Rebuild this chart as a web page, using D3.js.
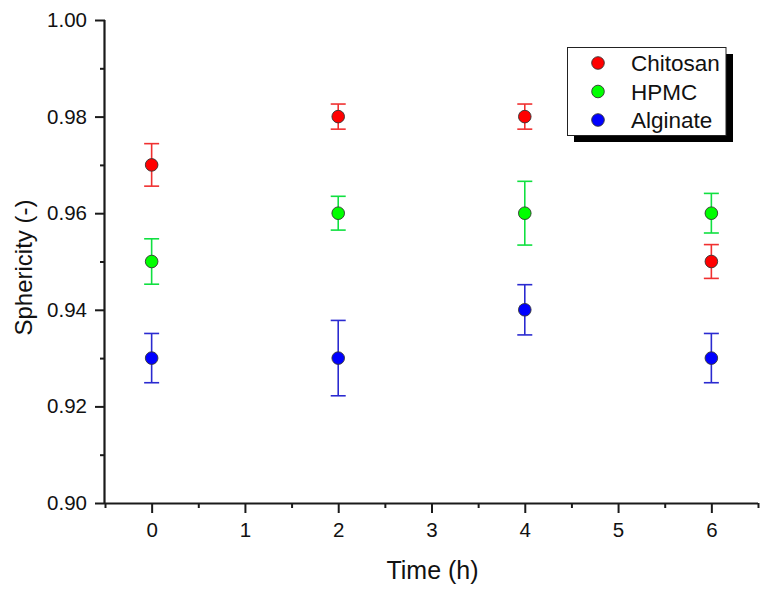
<!DOCTYPE html>
<html><head><meta charset="utf-8">
<script src="https://cdn.jsdelivr.net/npm/d3@7"></script>
<style>body{margin:0;background:#fff}svg{display:block}text{font-family:"Liberation Sans",Arial,sans-serif}</style>
</head><body>
<svg id="c" width="771" height="592"></svg>
<script>
const times = [0, 2, 4, 6];
const seriesNames = ["Chitosan", "HPMC", "Alginate"];
const chitosan = [0.97, 0.98, 0.98, 0.95];
const chitosanErr = [0.0044, 0.0026, 0.0026, 0.0035];
const hpmc = [0.95, 0.96, 0.96, 0.96];
const hpmcErr = [0.0047, 0.0035, 0.0066, 0.0041];
const alginate = [0.93, 0.93, 0.94, 0.93];
const alginateErr = [0.0051, 0.0078, 0.0052, 0.0051];
const xTicks = [0, 1, 2, 3, 4, 5, 6];
const yTicks = [0.90, 0.92, 0.94, 0.96, 0.98, 1.00];

const fills = ["#ff0000", "#00ff00", "#0000ff"];
const barColors = ["#f03030", "#10e040", "#2a2ad0"];
const series = [
  {name: seriesNames[0], v: chitosan, e: chitosanErr},
  {name: seriesNames[1], v: hpmc, e: hpmcErr},
  {name: seriesNames[2], v: alginate, e: alginateErr}
];

const svg = d3.select("#c");
const L = 105, R = 758, T = 20, B = 503;
const x = d3.scaleLinear().domain([-0.5, 6.5]).range([L, R]);
const y = d3.scaleLinear().domain([0.90, 1.00]).range([B, T]);

const xMinor = [-0.5, 0.5, 1.5, 2.5, 3.5, 4.5, 5.5, 6.5];
const yMinor = [0.91, 0.93, 0.95, 0.97, 0.99];

const gx = svg.append("g").attr("transform", `translate(0,${B})`);
gx.call(d3.axisBottom(x).tickValues(xMinor).tickSize(5).tickFormat(""));
gx.call(g => g.select(".domain").remove());
const gx2 = svg.append("g").attr("transform", `translate(0,${B})`)
  .call(d3.axisBottom(x).tickValues(xTicks).tickSize(10).tickPadding(9).tickFormat(d3.format("d")));
gx2.select(".domain").attr("d", `M${L},0.5H${R}`);

const gy = svg.append("g").attr("transform", `translate(${L},0)`);
gy.call(d3.axisLeft(y).tickValues(yMinor).tickSize(5).tickFormat(""));
gy.call(g => g.select(".domain").remove());
const gy2 = svg.append("g").attr("transform", `translate(${L},0)`)
  .call(d3.axisLeft(y).tickValues(yTicks).tickSize(10).tickPadding(8).tickFormat(d3.format(".2f")));
gy2.select(".domain").attr("d", `M-0.5,${T}V${B}`);

svg.selectAll(".domain").attr("stroke", "#1a1a1a").attr("stroke-width", 2.2);
svg.selectAll(".tick line").attr("stroke", "#1a1a1a").attr("stroke-width", 2);
svg.selectAll(".tick text").attr("font-size", 20.5).attr("fill", "#111")
  .attr("font-family", '"Liberation Sans", Arial, sans-serif');

svg.append("text").attr("x", (L + R) / 2 + 1).attr("y", 579).attr("text-anchor", "middle")
  .attr("font-size", 25).attr("fill", "#111").text("Time (h)");
svg.append("text").attr("transform", `translate(32,${(T + B) / 2 + 6}) rotate(-90)`)
  .attr("text-anchor", "middle").attr("font-size", 24).attr("fill", "#111").text("Sphericity (-)");

series.forEach((s, i) => {
  const g = svg.append("g");
  times.forEach((t, j) => {
    const cx = x(t), y1 = y(s.v[j] + s.e[j]), y2 = y(s.v[j] - s.e[j]);
    g.append("line").attr("x1", cx).attr("x2", cx).attr("y1", y1).attr("y2", y2)
      .attr("stroke", barColors[i]).attr("stroke-width", 1.6);
    [y1, y2].forEach(yy => g.append("line").attr("x1", cx - 7.5).attr("x2", cx + 7.5)
      .attr("y1", yy).attr("y2", yy).attr("stroke", barColors[i]).attr("stroke-width", 1.6));
  });
});
series.forEach((s, i) => {
  svg.append("g").selectAll("circle").data(times).join("circle")
    .attr("cx", d => x(d)).attr("cy", (d, j) => y(s.v[j])).attr("r", 6.3)
    .attr("fill", fills[i]).attr("stroke", "#333").attr("stroke-width", 0.9);
});

const lg = svg.append("g");
lg.append("rect").attr("x", 574).attr("y", 54).attr("width", 159).attr("height", 88).attr("fill", "#000");
lg.append("rect").attr("x", 567.5).attr("y", 47.5).attr("width", 158.5).attr("height", 88)
  .attr("fill", "#fff").attr("stroke", "#222").attr("stroke-width", 1);
seriesNames.forEach((n, i) => {
  const yy = 63 + i * 28.5;
  lg.append("circle").attr("cx", 598).attr("cy", yy).attr("r", 6.3)
    .attr("fill", fills[i]).attr("stroke", "#333").attr("stroke-width", 0.9);
  lg.append("text").attr("x", 631).attr("y", yy + 8).attr("font-size", 22.5).attr("fill", "#111").text(n);
});
</script>
</body></html>
